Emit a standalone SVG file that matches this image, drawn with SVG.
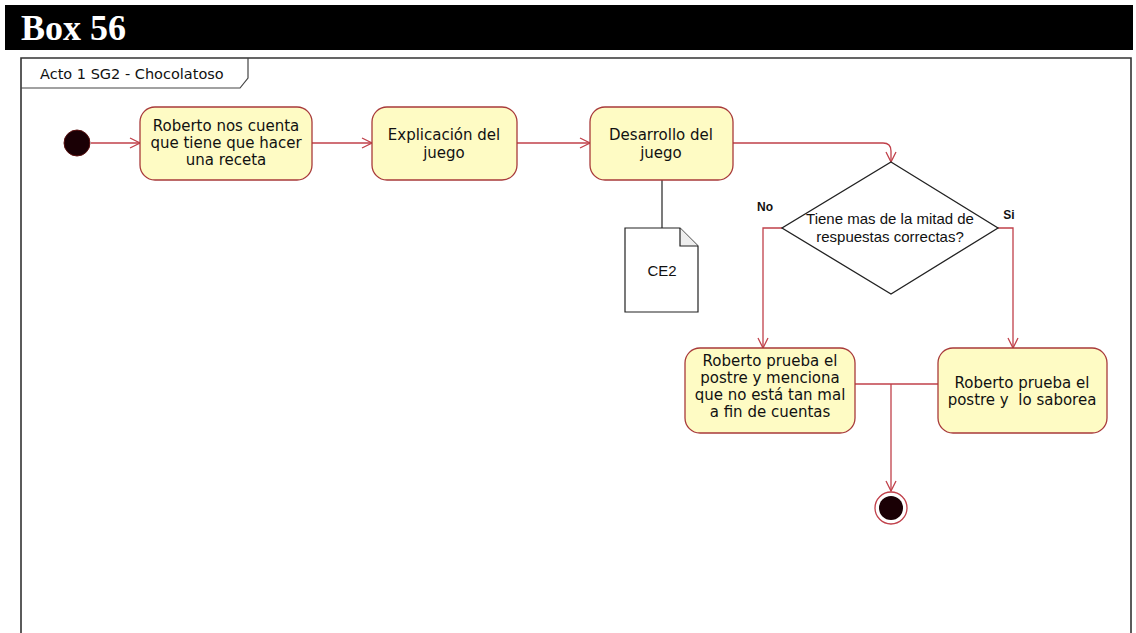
<svg xmlns="http://www.w3.org/2000/svg" width="1136" height="633" viewBox="0 0 1136 633">
<defs>
<style>
.act{fill:#FEFBC4;stroke:#A83A3A;stroke-width:1.3}
.t{font-family:"DejaVu Sans",Verdana,sans-serif;font-size:15px;fill:#111;text-anchor:middle}
.a{font-family:"Liberation Sans",Arial,sans-serif;fill:#111;text-anchor:middle}
.c{fill:none;stroke:#C0404A;stroke-width:1.3}
.k{fill:none;stroke:#222;stroke-width:1.2}
</style>
<marker id="arr" viewBox="0 0 12 12" refX="11" refY="6" markerWidth="12" markerHeight="12" markerUnits="userSpaceOnUse" orient="auto">
<path d="M1,1 L11,6 L1,11" fill="none" stroke="#C0404A" stroke-width="1.3"/>
</marker>
</defs>
<rect width="1136" height="633" fill="#fff"/>
<g id="header">
<rect x="5" y="5" width="1128" height="45" fill="#000"/>
<text x="21" y="40" font-family="Liberation Serif,'Times New Roman',serif" font-weight="bold" font-size="36" fill="#fff">Box 56</text>
</g>
<g id="frame">
<path d="M21,633 V58 H1131 V633" fill="none" stroke="#333" stroke-width="1.6"/>
<path d="M21,88 H240 L248,78 V58" fill="none" stroke="#444" stroke-width="1.2"/>
<text x="40" y="79" font-family="'DejaVu Sans',Verdana,sans-serif" font-size="14.5" fill="#111">Acto 1 SG2 - Chocolatoso</text>
</g>
<g id="connectors">
<line class="c" x1="91" y1="143" x2="140" y2="143" marker-end="url(#arr)"/>
<line class="c" x1="312" y1="143" x2="372" y2="143" marker-end="url(#arr)"/>
<line class="c" x1="517" y1="143" x2="590" y2="143" marker-end="url(#arr)"/>
<path class="c" d="M733,143 H883 Q891,143 891,151 V162" marker-end="url(#arr)"/>
<path class="c" d="M782,228 H763 V348" marker-end="url(#arr)"/>
<path class="c" d="M998,228 H1013 V348" marker-end="url(#arr)"/>
<path class="c" d="M855,384 H938"/>
<line class="c" x1="891" y1="384" x2="891" y2="491" marker-end="url(#arr)"/>
<line class="k" x1="662" y1="180" x2="662" y2="228"/>
</g>
<g id="start">
<circle cx="77" cy="143" r="13" fill="#1a0005" stroke="#5a1010" stroke-width="1"/>
</g>
<g id="n1">
<rect class="act" x="140" y="107" width="172" height="73" rx="15"/>
<text class="t" x="226" y="131">Roberto nos cuenta</text>
<text class="t" x="226" y="148">que tiene que hacer</text>
<text class="t" x="226" y="165">una receta</text>
</g>
<g id="n2">
<rect class="act" x="372" y="107" width="145" height="73" rx="15"/>
<text class="t" x="444" y="140">Explicación del</text>
<text class="t" x="444" y="158">juego</text>
</g>
<g id="n3">
<rect class="act" x="590" y="107" width="143" height="73" rx="15"/>
<text class="t" x="661" y="140">Desarrollo del</text>
<text class="t" x="661" y="158">juego</text>
</g>
<g id="note">
<path d="M625,228 H680 L698,246 V312 H625 Z" fill="#fff" stroke="#222" stroke-width="1.2"/>
<path d="M680,228 V246 H698" fill="#eee" stroke="#222" stroke-width="1.2"/>
<text class="a" x="662" y="276" font-size="15">CE2</text>
</g>
<g id="decision">
<path d="M891,162 L998,228 L891,294 L782,228 Z" fill="#fff" stroke="#222" stroke-width="1.3"/>
<text class="a" x="890" y="224" font-size="15">Tiene mas de la mitad de</text>
<text class="a" x="890" y="242" font-size="15">respuestas correctas?</text>
<text class="a" x="765" y="211" font-size="12" font-weight="bold" fill="#222">No</text>
<text class="a" x="1009" y="219" font-size="12" font-weight="bold" fill="#222">Si</text>
</g>
<g id="n4">
<rect class="act" x="685" y="348" width="170" height="85" rx="15"/>
<text class="t" x="770" y="366">Roberto prueba el</text>
<text class="t" x="770" y="383">postre y menciona</text>
<text class="t" x="770" y="400">que no está tan mal</text>
<text class="t" x="770" y="417">a fin de cuentas</text>
</g>
<g id="n5">
<rect class="act" x="938" y="348" width="169" height="85" rx="15"/>
<text class="t" x="1022" y="388">Roberto prueba el</text>
<text class="t" x="1022" y="405" xml:space="preserve">postre y  lo saborea</text>
</g>
<g id="end">
<circle cx="891" cy="508" r="16" fill="#fff" stroke="#C0404A" stroke-width="1.3"/>
<circle cx="891" cy="508" r="12" fill="#1a0005"/>
</g>
</svg>
